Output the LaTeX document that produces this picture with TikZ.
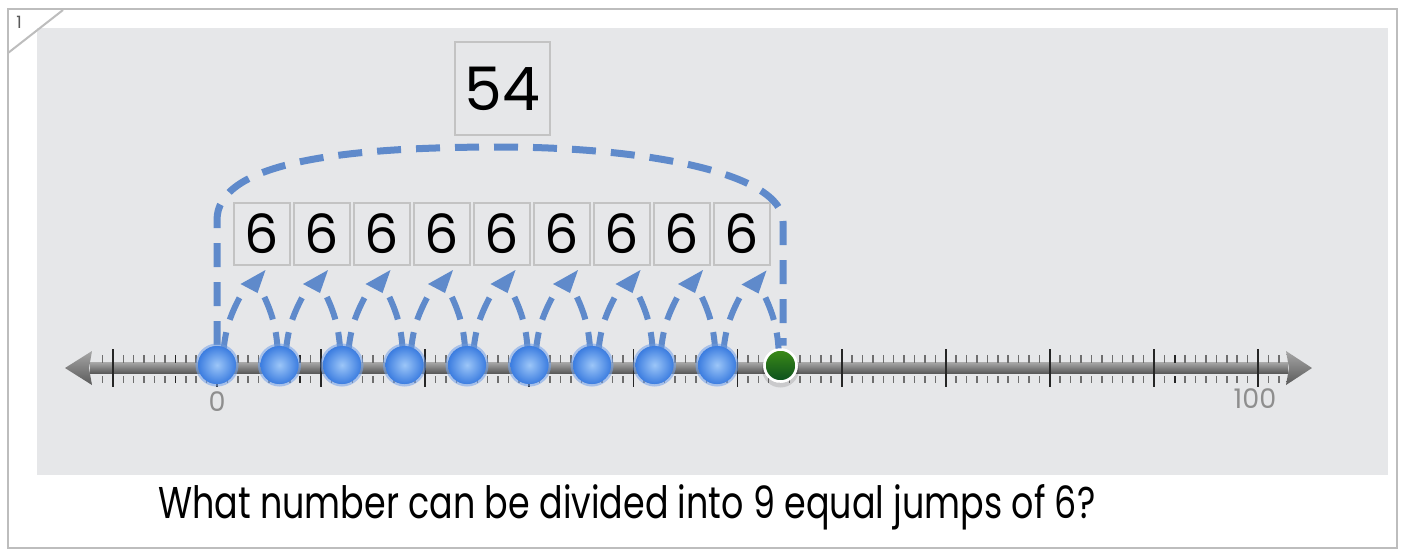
\documentclass[tikz,border=0pt]{standalone}
\usepackage{graphicx}
\usepackage{fontspec}
\setmainfont{Poppins}
\usetikzlibrary{calc}
\definecolor{bg}{HTML}{E6E7E9}
\definecolor{framec}{HTML}{BDBDBD}
\definecolor{jumpc}{HTML}{5F8ACB}
\definecolor{boxline}{HTML}{C3C3C3}
\definecolor{labc}{HTML}{8E8E8E}
\definecolor{barT}{HTML}{A6A6A6}
\definecolor{barB}{HTML}{5A5A5A}
\definecolor{tickc}{HTML}{6E6E6E}
\definecolor{dotIn}{HTML}{9CC6F8}
\definecolor{dotOut}{HTML}{3C7DE0}
\definecolor{grT}{HTML}{3C8C17}
\definecolor{grB}{HTML}{0B4F1E}
\begin{document}
\begin{tikzpicture}[x=1pt,y=-1pt,
  numbox/.style={draw=boxline, line width=2pt, fill=bg, inner sep=0pt,
    minimum width=56pt, minimum height=62pt, font=\fontsize{54}{54}\selectfont},
  bigline/.style={draw=jumpc, line width=7pt, dash pattern=on 24pt off 15pt},
  jumpline/.style={draw=jumpc, line width=6pt, dash pattern=on 24pt off 13pt},
  jumptip/.style={fill=jumpc},
  bdot/.style={circle, minimum size=38pt, inner sep=0pt, inner color=dotIn, outer color=dotOut},
  gdot/.style={circle, minimum size=32pt, inner sep=0pt, draw=white, line width=2.5pt, top color=grT, bottom color=grB},
  lab/.style={text=labc, font=\fontsize{27}{27}\selectfont, inner sep=0pt},
  minortick/.style={draw=tickc, line width=1.5pt},
  majortick/.style={draw=black!85, line width=1.8pt}
]
\useasboundingbox (0,0) rectangle (1404,550);
\fill[white] (0,0) rectangle (1404,550);
\draw[framec, line width=2.5pt] (8,9) rectangle (1397,548);
\fill[bg] (37,28) rectangle (1388,475);
\draw[framec, line width=2pt] (8,53) -- (63,10);
\node[text=black!65, font=\fontsize{17}{17}\selectfont, inner sep=0pt] (pg) at (19,22) {1};

% boxes
\foreach \i in {0,...,8} \node[numbox] (b\i) at ({262+60*\i},234) {6};
\node[numbox, minimum width=95pt, minimum height=93pt, font=\fontsize{60}{60}\selectfont] (total) at (502.5,88.5) {54};

% number line bar and arrows
\shade[top color=barT, bottom color=barB] (90,362.5) rectangle (1288,373);
\shade[top color=barT, bottom color=barB] (65,368) -- (92,351) -- (89,368) -- (92,385) -- cycle;
\shade[top color=barT, bottom color=barB] (1312,368) -- (1286,351) -- (1289,368) -- (1286,385) -- cycle;
\foreach \u in {-11,...,102} {
  \draw[minortick] ({217+10.41*\u},355) -- ({217+10.41*\u},362.5);
  \draw[minortick] ({217+10.41*\u},376) -- ({217+10.41*\u},383);
}
\foreach \u in {-4,8,92} {
  \draw[majortick, line width=1.6pt] ({217+10.41*\u},355) -- ({217+10.41*\u},362.5);
  \draw[majortick, line width=1.6pt] ({217+10.41*\u},376) -- ({217+10.41*\u},383);
}
\foreach \u in {-10,0,10,...,100}
  \draw[majortick] ({217+10.41*\u},349) -- ({217+10.41*\u},387);

\node[lab] (l0) at (217,402) {0};
\node[lab] (l100) at (1255,399) {100};

% dots
\foreach \k in {0,...,8} {
  \fill[dotOut!70!white, opacity=0.35] ({217+62.5*\k},365) circle (21.5);
  \node[bdot] (d\k) at ({217+62.5*\k},365) {};
}
\fill[black, opacity=0.12] (780.5,369) circle (18.5);
\node[gdot] (g) at (780.5,365.5) {};

% big arc
\draw[bigline] ([yshift=20pt]d0.center) -- (217,220) .. controls (217,163) and (340,147) .. (500,147) .. controls (640,147) and (783,172) .. (783,222) -- ([xshift=2.5pt,yshift=20pt]g.center);

% jumps
\foreach \k [count=\n from 1] in {0,...,7} {
  \draw[jumpline] ([xshift=6pt,yshift=9pt]d\k.center) to[bend left=12] ([xshift=24pt,yshift=70pt]d\k.center);
  \draw[jumpline] ([xshift=-1.5pt,yshift=9pt]d\n.center) to[bend right=12] ([xshift=-18.5pt,yshift=75pt]d\n.center);
  \fill[jumptip] ([xshift=-39pt,yshift=81pt]d\n.center) -- ([xshift=-14pt,yshift=95pt]d\n.center) -- ([xshift=-22pt,yshift=72pt]d\n.center) -- cycle;
}
\draw[jumpline] ([xshift=6pt,yshift=9pt]d8.center) to[bend left=12] ([xshift=24pt,yshift=70pt]d8.center);
\draw[jumpline] ([xshift=-1.5pt,yshift=9pt]g.center) to[bend right=12] ([xshift=-18.5pt,yshift=75pt]g.center);
\fill[jumptip] ([xshift=-39pt,yshift=81pt]g.center) -- ([xshift=-14pt,yshift=95pt]g.center) -- ([xshift=-22pt,yshift=72pt]g.center) -- cycle;

% redraw dots over arc feet
\foreach \k in {0,...,8} {
  \fill[dotOut!70!white, opacity=0.35] (d\k) circle (21.5);
  \node[bdot] at (d\k) {};
}
\node[gdot] at (g) {};

\node[anchor=base west, inner sep=0pt] (q) at (158,518) {\resizebox{937pt}{34pt}{What number can be divided into 9 equal jumps of 6?}};
\end{tikzpicture}
\end{document}
